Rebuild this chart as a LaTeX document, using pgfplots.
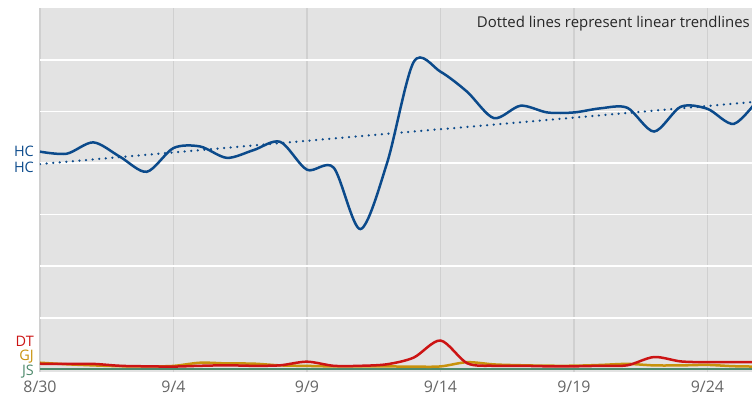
\documentclass[border=0pt]{standalone}
\usepackage{fontspec}
\setmainfont{Open Sans}
\usepackage{pgfplots}
\pgfplotsset{compat=1.18}

\definecolor{bgc}{HTML}{E3E3E3}
\definecolor{vgrid}{HTML}{D0D0D0}
\definecolor{hcblue}{HTML}{0B4A8B}
\definecolor{dtred}{HTML}{CC1414}
\definecolor{gjgold}{HTML}{C8920C}
\definecolor{jsgreen}{HTML}{4E8A6C}
\definecolor{ticktxt}{HTML}{666666}

% day 0 = 8/30
\pgfplotstableread{
d hc dt gj
0 4.22 0.110 0.130
1 4.18 0.107 0.100
2 4.40 0.107 0.078
3 4.12 0.070 0.062
4 3.83 0.060 0.058
5 4.29 0.055 0.068
6 4.32 0.070 0.130
7 4.10 0.080 0.116
8 4.25 0.070 0.112
9 4.41 0.080 0.078
10 3.87 0.150 0.068
11 3.91 0.070 0.058
12 2.72 0.070 0.058
13 4.00 0.100 0.058
14 5.96 0.230 0.054
15 5.77 0.560 0.058
16 5.38 0.120 0.140
17 4.87 0.070 0.097
18 5.11 0.070 0.081
19 4.98 0.060 0.072
20 4.98 0.060 0.072
21 5.06 0.070 0.087
22 5.07 0.080 0.107
23 4.61 0.240 0.078
24 5.09 0.155 0.078
25 5.05 0.140 0.087
26 4.76 0.140 0.062
27 5.30 0.140 0.054
}\datatable

\begin{document}
\begin{tikzpicture}[x=1bp,y=1bp]
\begin{axis}[
  at={(40bp,28bp)}, anchor=south west,
  scale only axis,
  width=712bp, height=364bp,
  xmin=0, xmax=26.67,
  ymin=-0.05, ymax=7.004,
  axis background/.style={fill=bgc},
  axis line style={draw=none},
  xtick={0,5,10,15,20,25},
  xticklabels={8/30,9/4,9/9,9/14,9/19,9/24},
  ytick={1,2,3,4,5,6},
  yticklabels={},
  major tick length=0pt,
  xmajorgrids, ymajorgrids,
  x grid style={vgrid, line width=1.2bp},
  y grid style={white, line width=1.6bp},
  tick label style={font=\fontsize{16}{16}\selectfont, text=ticktxt},
  xticklabel style={yshift=-5bp},
  clip=true,
]
\addplot[jsgreen, line width=2.5bp] coordinates {(0,0.01)(27,0.01)};
\addplot[gjgold, line width=2.5bp, smooth] table[x=d, y=gj] {\datatable};
\addplot[dtred, line width=2.5bp, smooth] table[x=d, y=dt] {\datatable};
\addplot[hcblue, line width=2.5bp, dash pattern=on 0bp off 6.6bp, line cap=round]
  coordinates {(0,3.98)(26.67,5.18)};
\addplot[hcblue, line width=2.5bp, smooth] table[x=d, y=hc] {\datatable};
\end{axis}
\node[anchor=base east, font=\fontsize{15}{15}\selectfont, text=black!85, inner sep=0pt]
  at (750bp,372bp) {Dotted lines represent linear trendlines};
\begin{scope}[font=\fontsize{14.5}{14.5}\selectfont, inner sep=0pt]
\node[text=hcblue, anchor=east] at (34bp,249bp) {HC};
\node[text=hcblue, anchor=east] at (34bp,233bp) {HC};
\node[text=dtred, anchor=east] at (34bp,59bp) {DT};
\node[text=gjgold, anchor=east] at (34bp,43.5bp) {GJ};
\node[text=jsgreen, anchor=east] at (34bp,28bp) {JS};
\end{scope}
\pgfresetboundingbox
\path (0,0) rectangle (752bp,400bp);
\end{tikzpicture}
\end{document}
